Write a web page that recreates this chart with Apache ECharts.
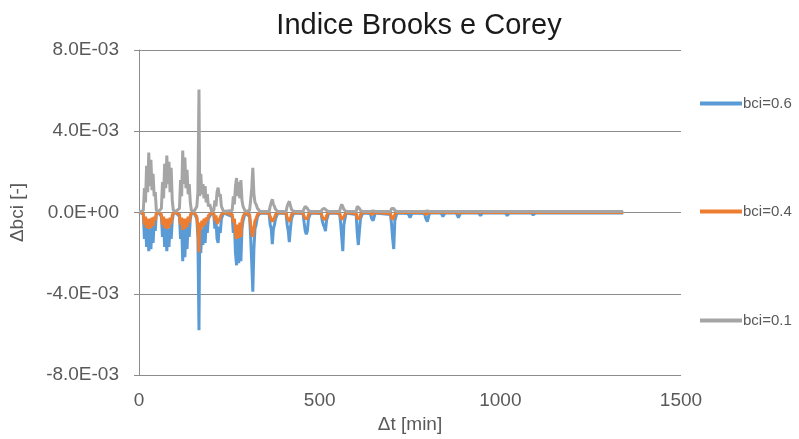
<!DOCTYPE html>
<html>
<head>
<meta charset="utf-8">
<script src="https://cdn.jsdelivr.net/npm/echarts@6/dist/echarts.min.js"></script>
<style>
  html, body { margin: 0; padding: 0; background: #fff; }
  #chart { width: 799px; height: 439px; }
</style>
</head>
<body>
<div id="chart"></div>
<script>
// Elapsed time [min], one row per drainage event
const minutes = [
  0, 6,
  12, 15, 18, 21, 24, 27, 30, 33, 36, 39, 42, 45, 48, 54,
  62, 65, 68, 71, 74, 77, 80, 83, 86, 89, 92, 95, 102,
  112, 115, 118, 121, 124, 127, 130, 133, 136, 139, 142, 145, 152,
  160, 163, 166, 168, 171, 174, 177, 180, 183, 186, 189, 192, 196, 201,
  207, 210, 213, 216, 219, 222, 225, 228, 234,
  258, 261, 264, 267, 270, 273, 276, 279, 282, 285, 288, 294,
  306, 309, 312, 315, 318, 321, 324, 328, 335,
  360, 363, 366, 369, 372, 375, 378, 384,
  407, 410, 413, 416, 419, 422, 428,
  454, 457, 460, 463, 466, 469, 475,
  504, 507, 510, 513, 516, 519, 525,
  555, 558, 561, 564, 567, 573,
  601, 604, 607, 610, 613, 619,
  640, 644, 648, 654,
  696, 699, 702, 705, 708, 714,
  745, 750, 756,
  790, 794, 798, 804,
  836, 841, 847,
  878, 884, 890,
  940, 945, 951,
  1014, 1019, 1025,
  1086, 1091, 1097,
  1125, 1130, 1136,
  1266, 1271, 1277,
  1340
];

// Δbci in thousandths (×1E-03) for bci = 0.6
const bci06 = [
  0, -0.02,
  -0.1, -1.3, -0.5, -1.7, -0.7, -1.9, -0.8, -1.8, -0.6, -1.5, -0.5, -0.9, -0.05, 0,
  -0.2, -1.2, -0.5, -1.7, -0.7, -1.9, -0.8, -1.7, -0.6, -1.3, -0.4, -0.05, 0,
  -0.2, -1.3, -0.6, -2.4, -0.8, -2.2, -0.7, -1.8, -0.5, -1.2, -0.3, -0.05, 0,
  -0.3, -1.2, -5.8, -0.9, -2.0, -0.8, -1.6, -0.6, -1.5, -0.5, -1.0, -0.3, -0.3, -0.02,
  -0.1, -0.8, -0.4, -1.3, -1.5, -0.7, -1.0, -0.3, -0.02,
  -0.2, -1.0, -0.5, -2.0, -2.6, -1.2, -2.5, -1.0, -2.4, -0.8, -0.4, -0.02,
  -0.2, -1.2, -2.5, -3.9, -1.8, -0.8, -0.6, -0.2, -0.02,
  -0.05, -0.6, -0.8, -1.56, -0.8, -0.6, -0.3, -0.02,
  -0.05, -0.6, -0.9, -1.46, -0.8, -0.3, -0.02,
  -0.05, -0.5, -0.9, -1.07, -0.9, -0.3, -0.02,
  -0.05, -0.4, -0.6, -0.7, -0.92, -0.4, -0.02,
  -0.05, -0.5, -1.2, -1.9, -0.6, -0.02,
  -0.1, -1.0, -1.6, -0.9, -0.3, -0.02,
  -0.05, -0.3, -0.4, -0.02,
  -0.1, -0.6, -1.3, -1.8, -0.4, -0.02,
  -0.05, -0.25, -0.02,
  -0.05, -0.3, -0.45, -0.02,
  -0.02, -0.2, -0.02,
  -0.02, -0.25, -0.02,
  -0.02, -0.15, -0.02,
  -0.02, -0.15, -0.02,
  -0.02, -0.12, -0.02,
  -0.02, -0.1, -0.02,
  -0.02, -0.1, -0.02,
  -0.02
];

// Δbci in thousandths (×1E-03) for bci = 0.4
const bci04 = [
  0, 0,
  -0.05, -0.6, -0.2, -0.75, -0.3, -0.8, -0.3, -0.75, -0.25, -0.65, -0.2, -0.4, -0.02, 0,
  -0.1, -0.6, -0.2, -0.75, -0.3, -0.8, -0.3, -0.75, -0.25, -0.55, -0.15, -0.02, 0,
  -0.1, -0.6, -0.25, -0.85, -0.3, -0.8, -0.3, -0.7, -0.2, -0.5, -0.15, -0.02, 0,
  -0.2, -0.7, -1.95, -0.5, -0.85, -0.4, -0.7, -0.3, -0.6, -0.25, -0.4, -0.15, -0.1, 0,
  -0.05, -0.4, -0.15, -0.55, -0.6, -0.35, -0.4, -0.1, 0,
  -0.1, -0.5, -0.3, -1.0, -1.3, -0.6, -1.25, -0.5, -1.2, -0.4, -0.2, 0,
  -0.1, -0.6, -1.0, -1.2, -0.8, -0.4, -0.3, -0.1, 0,
  -0.02, -0.2, -0.35, -0.45, -0.4, -0.25, -0.1, 0,
  -0.02, -0.25, -0.35, -0.45, -0.3, -0.1, 0,
  -0.02, -0.2, -0.3, -0.35, -0.3, -0.1, 0,
  -0.02, -0.2, -0.3, -0.3, -0.35, -0.15, 0,
  -0.02, -0.2, -0.35, -0.4, -0.2, 0,
  -0.05, -0.3, -0.35, -0.3, -0.1, 0,
  0, -0.1, -0.1, 0,
  -0.05, -0.25, -0.35, -0.3, -0.1, 0,
  0, -0.05, 0,
  0, -0.1, -0.1, 0,
  0, -0.05, 0,
  0, -0.05, 0,
  0, -0.03, 0,
  0, -0.02, 0,
  0, -0.02, 0,
  0, -0.02, 0,
  0, -0.02, 0,
  0
];

// Δbci in thousandths (×1E-03) for bci = 0.1
const bci01 = [
  0.05, 0.05,
  0.1, 1.2, 0.5, 2.3, 1.0, 2.95, 1.3, 2.6, 1.1, 1.9, 0.8, 1.0, 0.1, 0.05,
  0.2, 1.5, 0.7, 2.4, 1.2, 2.8, 1.4, 2.5, 1.0, 2.2, 0.6, 0.1, 0.05,
  0.2, 1.6, 0.8, 3.05, 1.4, 2.7, 1.2, 2.1, 0.9, 1.4, 0.5, 0.1, 0.05,
  0.3, 1.0, 6.05, 0.8, 1.9, 0.9, 1.4, 0.7, 1.3, 0.5, 0.9, 0.3, 0.4, 0.05,
  0.1, 0.6, 0.3, 1.0, 1.22, 0.8, 0.9, 0.3, 0.05,
  0.1, 0.8, 0.4, 1.3, 1.7, 0.8, 1.5, 0.7, 1.6, 0.6, 0.3, 0.05,
  0.1, 0.6, 1.2, 2.2, 0.9, 0.5, 0.4, 0.2, 0.05,
  0.05, 0.3, 0.5, 0.65, 0.4, 0.3, 0.15, 0.05,
  0.05, 0.3, 0.45, 0.55, 0.35, 0.15, 0.05,
  0.05, 0.2, 0.3, 0.25, 0.2, 0.1, 0.05,
  0.05, 0.15, 0.23, 0.2, 0.15, 0.1, 0.05,
  0.05, 0.25, 0.4, 0.3, 0.15, 0.05,
  0.05, 0.3, 0.25, 0.2, 0.1, 0.05,
  0.05, 0.1, 0.08, 0.05,
  0.05, 0.2, 0.26, 0.2, 0.1, 0.05,
  0.05, 0.08, 0.05,
  0.05, 0.1, 0.08, 0.05,
  0.05, 0.05, 0.05,
  0.05, 0.05, 0.05,
  0.05, 0.05, 0.05,
  0.05, 0.05, 0.05,
  0.05, 0.05, 0.05,
  0.05, 0.05, 0.05,
  0.05, 0.05, 0.05,
  0.05
];

const seriesNames = ['bci=0.6', 'bci=0.4', 'bci=0.1'];
const seriesValues = [bci06, bci04, bci01];
const seriesColors = ['#5B9BD5', '#ED7D31', '#A5A5A5'];
const legendCenters = [105, 213, 322];

const FONT = '"Liberation Sans", Arial, sans-serif';
const TEXT = '#595959';

function pairs(values) {
  return minutes.map((t, i) => [t, values[i]]);
}

function sciLabel(v) {
  if (v === 0) return '0.0E+00';
  return v.toFixed(1) + 'E-03';
}

const chart = echarts.init(document.getElementById('chart'), null, { renderer: 'canvas' });

chart.setOption({
  animation: false,
  backgroundColor: '#ffffff',
  title: {
    text: 'Indice Brooks e Corey',
    left: 414,
    textAlign: 'center',
    top: 6,
    textStyle: { fontFamily: FONT, fontSize: 29, fontWeight: 'normal', color: '#1a1a1a' }
  },
  legend: seriesNames.map((name, i) => ({
    data: [name],
    orient: 'vertical',
    left: 700,
    top: legendCenters[i] - 9,
    padding: 0,
    itemWidth: 42,
    itemHeight: 4,
    itemGap: 0,
    icon: 'rect',
    selectedMode: false,
    textStyle: { fontFamily: FONT, fontSize: 15, color: TEXT, padding: [0, 0, 0, -4] }
  })),
  grid: { left: 138, right: 118, top: 50, bottom: 61, containLabel: false },
  xAxis: {
    type: 'value',
    min: 0,
    max: 1500,
    interval: 500,
    name: 'Δt [min]',
    nameLocation: 'middle',
    nameGap: 40,
    nameTextStyle: { fontFamily: FONT, fontSize: 19, color: TEXT },
    axisLine: { show: false, onZero: false },
    axisTick: { show: false },
    splitLine: { show: false },
    axisLabel: { fontFamily: FONT, fontSize: 19, color: TEXT, margin: 16, formatter: (v) => String(v) }
  },
  yAxis: {
    type: 'value',
    min: -8,
    max: 8,
    interval: 4,
    name: 'Δbci [-]',
    nameLocation: 'middle',
    nameGap: 112,
    nameRotate: 90,
    nameTextStyle: { fontFamily: FONT, fontSize: 19, color: TEXT },
    axisLine: { show: true, lineStyle: { color: '#8c8c8c', width: 1 } },
    axisTick: { show: true, inside: false, length: 5, lineStyle: { color: '#8c8c8c' } },
    splitLine: { show: true, lineStyle: { color: '#8c8c8c', width: 1 } },
    axisLabel: { fontFamily: FONT, fontSize: 19, color: TEXT, margin: 20, formatter: sciLabel }
  },
  series: seriesNames.map((name, i) => ({
    name: name,
    type: 'line',
    data: pairs(seriesValues[i]),
    showSymbol: false,
    symbol: 'none',
    lineStyle: { color: seriesColors[i], width: 3 },
    itemStyle: { color: seriesColors[i] },
    z: 2 + i
  }))
});
</script>
</body>
</html>
